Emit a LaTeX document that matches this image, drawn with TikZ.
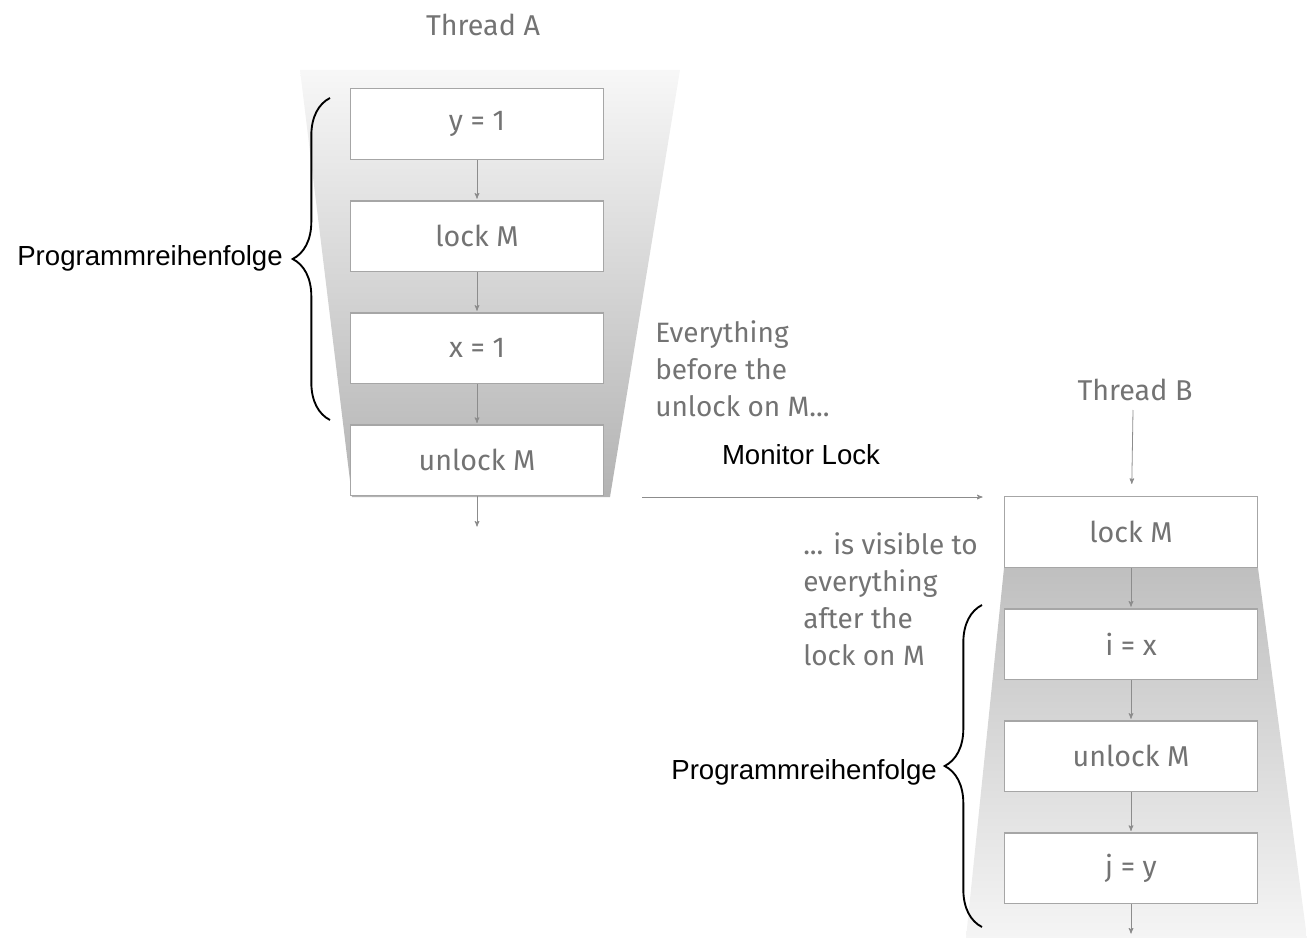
\documentclass[tikz,border=0pt]{standalone}
\usepackage{fontspec}
\setmainfont{Liberation Sans}
\newfontfamily\notefont{Fira Sans}
\usetikzlibrary{arrows}
\usetikzlibrary{positioning}
\usetikzlibrary{decorations.pathreplacing}
\tikzset{
	op_box/.style = {
		rectangle,
		draw=black!35,
		line width=1.1pt,
		fill=white,
		text=black!55,
		font=\notefont\fontsize{21.5}{24}\selectfont,
		minimum width=190pt,
		minimum height=53pt,
		inner sep=0pt
	},
	thread_lbl/.style = {
		text=black!55,
		font=\notefont\fontsize{21.5}{24}\selectfont,
		inner sep=0pt
	},
	note_txt/.style = {
		align=left,
		text=black!55,
		font=\notefont\fontsize{21}{27.75}\selectfont,
		inner sep=0pt
	},
	brace_lbl/.style = {
		text=black,
		font=\fontsize{20.7}{24}\selectfont,
		inner sep=0pt
	},
	flow/.style = {
		->,
		draw=black!45,
		line width=0.6pt,
		shorten >=1pt
	},
	brace_line/.style = {
		decorate,
		decoration={brace, amplitude=28pt},
		line width=1.4pt
	},
}

\begin{document}
\begin{tikzpicture}[x=0.75pt, y=-0.75pt, >=stealth']
\useasboundingbox (0,0) rectangle (1307,938);

% funnels
\shade[top color=black!3, bottom color=black!30] (300,70) -- (680,70) -- (610,497) -- (352,497) -- cycle;
\shade[top color=black!25, bottom color=black!4] (1004,568) -- (1258,568) -- (1307,938) -- (966,938) -- cycle;

% thread A
\node [thread_lbl] (thr_a) at (483,25) {Thread A};
\node [op_box] (a_y) at (477,124) {y = 1};
\node [op_box, below=30pt of a_y] (a_lock) {lock M};
\node [op_box, below=30pt of a_lock] (a_x) {x = 1};
\node [op_box, below=30pt of a_x] (a_unlock) {unlock M};
\coordinate (a_end) at (477,528);
\draw [flow] (a_y) -- (a_lock);
\draw [flow] (a_lock) -- (a_x);
\draw [flow] (a_x) -- (a_unlock);
\draw [flow] (a_unlock) -- (a_end);

% thread B
\node [thread_lbl] (thr_b) at (1135,390) {Thread B};
\coordinate (b_start) at (1133,410);
\node [op_box] (b_lock) at (1131,532) {lock M};
\node [op_box, below=30pt of b_lock] (b_i) {i = x};
\node [op_box, below=30pt of b_i] (b_unlock) {unlock M};
\node [op_box, below=30pt of b_unlock] (b_j) {j = y};
\coordinate (b_end) at (1131,935);
\draw [flow, shorten >=9pt] (b_start) -- (b_lock);
\draw [flow] (b_lock) -- (b_i);
\draw [flow] (b_i) -- (b_unlock);
\draw [flow] (b_unlock) -- (b_j);
\draw [flow] (b_j) -- (b_end);

% monitor lock
\coordinate (ml_from) at (642,497);
\coordinate (ml_to) at (984,497);
\draw [flow] (ml_from) -- (ml_to);
\node [brace_lbl] (ml_lbl) at (801,455) {Monitor Lock};

\node [note_txt, anchor=north west] (note_a) at (655,320) {Everything\\before the\\unlock on M...};
\node [note_txt, anchor=north west] (note_b) at (803,532) {... is visible to\\everything\\after the\\lock on M};

% program order
\coordinate (bra_a_bot) at (330,420);
\coordinate (bra_a_top) at (330,98);
\draw [brace_line] (bra_a_bot) -- (bra_a_top);
\node [brace_lbl, anchor=east] (prog_a) at (283,258) {Programmreihenfolge};
\coordinate (bra_b_bot) at (982,927);
\coordinate (bra_b_top) at (982,605);
\draw [brace_line] (bra_b_bot) -- (bra_b_top);
\node [brace_lbl, anchor=east] (prog_b) at (937,772) {Programmreihenfolge};
\end{tikzpicture}
\end{document}
